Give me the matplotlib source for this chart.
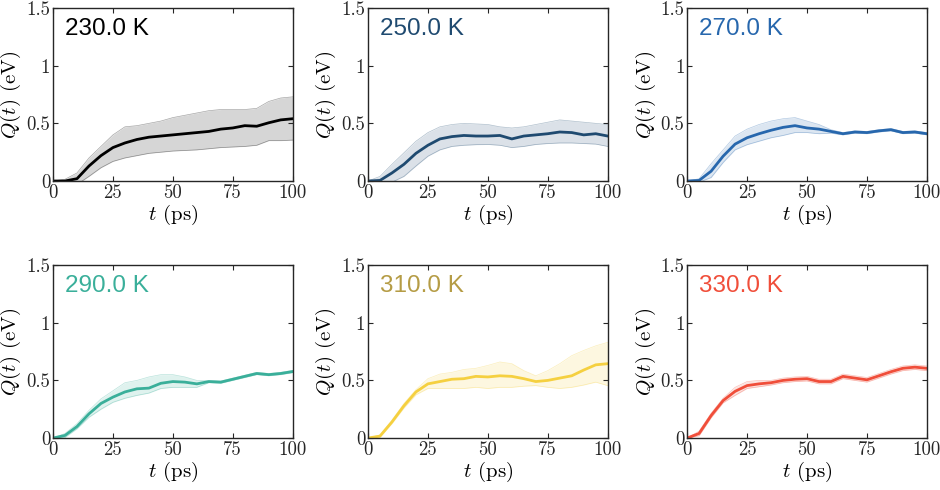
import numpy as np
import matplotlib
matplotlib.use("Agg")
from matplotlib import pyplot as plt

plt.rcParams['font.family'] = 'serif'
plt.rcParams['font.serif'] = ['cmr10']
plt.rcParams['mathtext.fontset'] = 'cm'
plt.rcParams['axes.unicode_minus'] = False

t = [0, 5, 10, 15, 20, 25, 30, 35, 40, 45, 50, 55, 60, 65, 70, 75, 80, 85, 90, 95, 100]

temps = ["230.0 K", "250.0 K", "270.0 K", "290.0 K", "310.0 K", "330.0 K"]

q230 = [0, 0.0, 0.02, 0.13, 0.22, 0.29, 0.33, 0.36, 0.38, 0.39, 0.40, 0.41, 0.42, 0.43, 0.45, 0.46, 0.48, 0.475, 0.505, 0.53, 0.54]
hi230 = [0, 0.015, 0.07, 0.20, 0.30, 0.40, 0.47, 0.48, 0.50, 0.52, 0.55, 0.57, 0.59, 0.61, 0.62, 0.62, 0.62, 0.63, 0.69, 0.72, 0.73]
lo230 = [0, -0.02, -0.03, 0.04, 0.115, 0.17, 0.20, 0.22, 0.24, 0.25, 0.26, 0.265, 0.27, 0.28, 0.29, 0.295, 0.30, 0.31, 0.35, 0.35, 0.355]

q250 = [0, 0.005, 0.07, 0.145, 0.24, 0.31, 0.365, 0.385, 0.395, 0.39, 0.39, 0.395, 0.365, 0.39, 0.40, 0.41, 0.425, 0.42, 0.40, 0.41, 0.39]
hi250 = [0, 0.04, 0.145, 0.245, 0.345, 0.42, 0.47, 0.49, 0.50, 0.495, 0.49, 0.47, 0.46, 0.47, 0.49, 0.51, 0.53, 0.52, 0.51, 0.50, 0.49]
lo250 = [0, -0.03, -0.01, 0.04, 0.13, 0.215, 0.27, 0.30, 0.31, 0.315, 0.317, 0.31, 0.29, 0.30, 0.317, 0.325, 0.33, 0.33, 0.325, 0.32, 0.30]

q270 = [0, 0.005, 0.085, 0.215, 0.32, 0.375, 0.41, 0.44, 0.465, 0.48, 0.46, 0.45, 0.43, 0.41, 0.425, 0.42, 0.435, 0.445, 0.42, 0.425, 0.41]
hi270 = [0, 0.02, 0.15, 0.27, 0.39, 0.45, 0.49, 0.52, 0.54, 0.55, 0.52, 0.49, 0.445, 0.42, 0.435, 0.43, 0.445, 0.455, 0.43, 0.435, 0.42]
lo270 = [0, -0.01, 0.03, 0.16, 0.27, 0.315, 0.345, 0.375, 0.395, 0.42, 0.42, 0.41, 0.415, 0.40, 0.415, 0.41, 0.425, 0.435, 0.41, 0.415, 0.40]

q290 = [0, 0.023, 0.10, 0.21, 0.30, 0.355, 0.40, 0.427, 0.433, 0.475, 0.49, 0.485, 0.47, 0.49, 0.485, 0.51, 0.535, 0.56, 0.55, 0.56, 0.577]
hi290 = [0, 0.04, 0.125, 0.24, 0.34, 0.41, 0.48, 0.50, 0.53, 0.55, 0.55, 0.53, 0.50, 0.50, 0.495, 0.52, 0.545, 0.57, 0.56, 0.57, 0.587]
lo290 = [0, 0.005, 0.08, 0.18, 0.25, 0.31, 0.345, 0.37, 0.39, 0.43, 0.44, 0.44, 0.44, 0.48, 0.475, 0.50, 0.525, 0.55, 0.54, 0.55, 0.567]

q310 = [0, 0.017, 0.14, 0.28, 0.40, 0.47, 0.49, 0.51, 0.515, 0.535, 0.53, 0.54, 0.535, 0.515, 0.49, 0.50, 0.52, 0.54, 0.59, 0.635, 0.645]
hi310 = [0, 0.027, 0.155, 0.30, 0.42, 0.515, 0.555, 0.57, 0.595, 0.605, 0.63, 0.66, 0.645, 0.585, 0.54, 0.585, 0.645, 0.715, 0.76, 0.80, 0.83]
lo310 = [0, 0.007, 0.125, 0.26, 0.375, 0.43, 0.43, 0.43, 0.43, 0.44, 0.43, 0.44, 0.44, 0.45, 0.455, 0.44, 0.43, 0.44, 0.46, 0.485, 0.455]

q330 = [0, 0.04, 0.195, 0.325, 0.405, 0.455, 0.47, 0.48, 0.50, 0.51, 0.515, 0.49, 0.49, 0.535, 0.52, 0.505, 0.54, 0.575, 0.605, 0.615, 0.605]
hi330 = [0, 0.06, 0.215, 0.345, 0.44, 0.49, 0.50, 0.50, 0.52, 0.53, 0.535, 0.51, 0.51, 0.555, 0.54, 0.525, 0.56, 0.595, 0.625, 0.635, 0.625]
lo330 = [0, 0.02, 0.175, 0.305, 0.37, 0.43, 0.445, 0.46, 0.48, 0.49, 0.495, 0.47, 0.47, 0.515, 0.50, 0.485, 0.52, 0.555, 0.585, 0.595, 0.585]

means = [q230, q250, q270, q290, q310, q330]
uppers = [hi230, hi250, hi270, hi290, hi310, hi330]
lowers = [lo230, lo250, lo270, lo290, lo310, lo330]

line_colors = ['#000000', '#1f4a70', '#2767ad', '#3aaf9a', '#f5d040', '#f04e3a']
text_colors = ['#000000', '#1f4a70', '#2767ad', '#3aaf9a', '#b59c45', '#f04e3a']

xticks = [0, 25, 50, 75, 100]
xticklabels = ['0', '25', '50', '75', '100']
yticks = [0, 0.5, 1, 1.5]
yticklabels = ['0', '0.5', '1', '1.5']

fig = plt.figure(figsize=(9.4, 4.9), dpi=100)
lefts = [0.0564, 0.3915, 0.731]
bottoms = [0.6306, 0.106]
w, h = 0.255, 0.353

for k in range(6):
    r, c = divmod(k, 3)
    ax = fig.add_axes([lefts[c], bottoms[r], w, h])
    col = line_colors[k]
    ax.fill_between(t, lowers[k], uppers[k], color=col, alpha=0.16, lw=0)
    ax.plot(t, uppers[k], color=col, lw=0.5, alpha=0.35)
    ax.plot(t, lowers[k], color=col, lw=0.5, alpha=0.35)
    ax.plot(t, means[k], color=col, lw=2.0)
    ax.set_xlim(0, 100)
    ax.set_ylim(0, 1.5)
    ax.set_xticks(xticks, labels=xticklabels)
    ax.set_yticks(yticks, labels=yticklabels)
    ax.tick_params(direction='in', top=True, right=True, labelsize=13.5, length=3.5, width=0.8, pad=2, colors='#262626')
    for s in ax.spines.values():
        s.set_linewidth(1.0)
        s.set_color('#262626')
    ax.set_xlabel(r'$t$ (ps)', fontsize=15, labelpad=1)
    ax.set_ylabel(r'$Q(t)$ (eV)', fontsize=15, labelpad=2)
    ax.text(0.05, 0.94, temps[k], transform=ax.transAxes, ha='left', va='top',
            fontsize=17.5, color=text_colors[k], family='Liberation Sans')

fig.savefig('out.png', dpi=100)
